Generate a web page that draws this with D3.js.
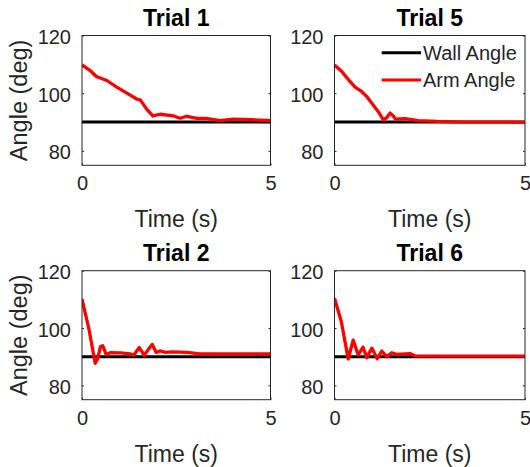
<!DOCTYPE html>
<html>
<head>
<meta charset="utf-8">
<script src="https://cdn.jsdelivr.net/npm/d3@7"></script>
<style>
  body { margin: 0; background: #fff; }
  text { font-family: "Liberation Sans", Arial, sans-serif; }
</style>
</head>
<body>
<svg width="530" height="467"></svg>
<script>
// trial titles, in panel order (top-left, top-right, bottom-left, bottom-right)
var trialNames = ['Trial 1', 'Trial 5', 'Trial 2', 'Trial 6'];

// wall angle is constant
var wallTime = [0, 5];
var wallAngle = [90, 90];

// arm angle traces
var trial1Time  = [0, 0.22, 0.39, 0.66, 0.92, 1.19, 1.45, 1.55, 1.62, 1.72, 1.88, 2.07, 2.43, 2.6, 2.78, 3.05, 3.3, 3.66, 4.0, 4.5, 5.0];
var trial1Angle = [109.8, 107.8, 105.7, 104.4, 102.1, 100, 98, 97.6, 96.3, 94.4, 92.1, 92.7, 92.1, 91.3, 92, 91.3, 91.3, 90.5, 91, 90.8, 90.5];

var trial5Time  = [0, 0.19, 0.41, 0.54, 0.71, 0.85, 0.98, 1.15, 1.28, 1.37, 1.46, 1.55, 1.6, 1.85, 2.2, 2.7, 3.4, 4.3, 5.0];
var trial5Angle = [109.8, 107.5, 104, 102.1, 100.6, 98.8, 96.5, 93.6, 90.8, 91.5, 93.1, 92, 91, 91.2, 90.5, 90.2, 90, 90, 89.9];

var trial2Time  = [0, 0.18, 0.35, 0.42, 0.49, 0.55, 0.64, 0.75, 1.02, 1.28, 1.37, 1.52, 1.65, 1.76, 1.86, 1.97, 2.07, 2.21, 2.38, 2.78, 3.13, 4.02, 5.0];
var trial2Angle = [110.1, 99.9, 87.7, 89.5, 93.5, 93.8, 90.8, 91.4, 91.3, 91, 90.5, 93.2, 90.5, 92.5, 94.3, 91.5, 92, 91.5, 91.7, 91.5, 91, 91, 91];

var trial6Time  = [0, 0.18, 0.36, 0.49, 0.62, 0.75, 0.85, 0.98, 1.12, 1.24, 1.37, 1.5, 1.63, 1.98, 2.1, 2.97, 5.0];
var trial6Angle = [110.4, 102.2, 89.2, 95.8, 90.6, 93.3, 89.6, 93, 89.3, 92, 90, 91.4, 90.8, 91.1, 90.3, 90.2, 90.2];

var armTimes  = [trial1Time, trial5Time, trial2Time, trial6Time];
var armAngles = [trial1Angle, trial5Angle, trial2Angle, trial6Angle];

var xTicks = [0, 5];
var yTicks = [80, 100, 120];
var xDomain = [0, 5];
var yDomain = [75, 120];

var legendLabels = ['Wall Angle', 'Arm Angle'];
var legendColors = ['#000000', '#ff0000'];

var svg = d3.select('svg');
var axisColor = '#262626';

// panel boxes in pixels
var cols = [{l: 82, r: 270.5}, {l: 334.5, r: 525}];
var rows = [{t: 35.5, b: 165.3}, {t: 270.7, b: 399.7}];

trialNames.forEach(function(name, i) {
    var c = cols[i % 2], r = rows[Math.floor(i / 2)];

    var x = d3.scaleLinear().domain(xDomain).range([c.l, c.r]);
    var y = d3.scaleLinear().domain(yDomain).range([r.b, r.t]);

    var g = svg.append('g');

    g.append('clipPath').attr('id', 'clip' + i)
        .append('rect')
        .attr('x', c.l).attr('y', r.t)
        .attr('width', c.r - c.l).attr('height', r.b - r.t);

    var line = d3.line()
        .x(function(d) { return x(d[0]); })
        .y(function(d) { return y(d[1]); });

    var plot = g.append('g').attr('clip-path', 'url(#clip' + i + ')');

    plot.append('path')
        .attr('d', line(d3.zip(wallTime, wallAngle)))
        .attr('fill', 'none')
        .attr('stroke', legendColors[0])
        .attr('stroke-width', 3);

    plot.append('path')
        .attr('d', line(d3.zip(armTimes[i], armAngles[i])))
        .attr('fill', 'none')
        .attr('stroke', legendColors[1])
        .attr('stroke-width', 3.3)
        .attr('stroke-linejoin', 'round');

    // axes (ticks inside, box on)
    var tl = 2;
    g.append('g')
        .attr('transform', 'translate(0,' + r.b + ')')
        .call(d3.axisBottom(x).tickValues(xTicks).tickFormat(d3.format('d')).tickSize(-tl).tickPadding(11).tickSizeOuter(0))
        .call(function(a) {
            a.select('.domain').remove();
            a.selectAll('line').attr('stroke', axisColor);
            a.selectAll('text').attr('fill', axisColor).style('font-size', '20px')
                .attr('font-family', '"Liberation Sans", Arial, sans-serif');
        });
    g.append('g')
        .attr('transform', 'translate(' + c.l + ',0)')
        .call(d3.axisLeft(y).tickValues(yTicks).tickFormat(d3.format('d')).tickSize(-tl).tickPadding(11).tickSizeOuter(0))
        .call(function(a) {
            a.select('.domain').remove();
            a.selectAll('line').attr('stroke', axisColor);
            a.selectAll('text').attr('fill', axisColor).style('font-size', '20px')
                .attr('font-family', '"Liberation Sans", Arial, sans-serif')
                .attr('dy', '0.4em');
        });
    g.append('g')
        .attr('transform', 'translate(' + c.r + ',0)')
        .call(d3.axisRight(y).tickValues(yTicks).tickSize(-tl).tickSizeOuter(0).tickFormat(''))
        .call(function(a) {
            a.select('.domain').remove();
            a.selectAll('line').attr('stroke', axisColor);
        });

    g.append('rect')
        .attr('x', c.l).attr('y', r.t)
        .attr('width', c.r - c.l).attr('height', r.b - r.t)
        .attr('fill', 'none')
        .attr('stroke', axisColor)
        .attr('stroke-width', 1);

    // title and labels
    g.append('text')
        .attr('x', (c.l + c.r) / 2)
        .attr('y', r.t - 9.5)
        .attr('text-anchor', 'middle')
        .style('font-size', '23px')
        .style('font-weight', 'bold')
        .attr('fill', '#000')
        .text(name);

    g.append('text')
        .attr('x', (c.l + c.r) / 2)
        .attr('y', r.b + 62)
        .attr('text-anchor', 'middle')
        .style('font-size', '23px')
        .attr('fill', axisColor)
        .text('Time (s)');

    if (i % 2 == 0) {
        g.append('text')
            .attr('transform', 'translate(' + (c.l - 55) + ',' + ((r.t + r.b) / 2) + ') rotate(-90)')
            .attr('text-anchor', 'middle')
            .style('font-size', '23.5px')
            .attr('fill', axisColor)
            .text('Angle (deg)');
    }

    // legend only on Trial 5
    if (i == 1) {
        legendLabels.forEach(function(lbl, k) {
            var ly = 52.7 + k * 27.3;
            g.append('line')
                .attr('x1', 381.7).attr('x2', 421)
                .attr('y1', ly).attr('y2', ly)
                .attr('stroke', legendColors[k])
                .attr('stroke-width', 3);
            g.append('text')
                .attr('x', 423)
                .attr('y', ly + 7)
                .style('font-size', '20px')
                .attr('fill', axisColor)
                .text(lbl);
        });
    }
});
</script>
</body>
</html>
